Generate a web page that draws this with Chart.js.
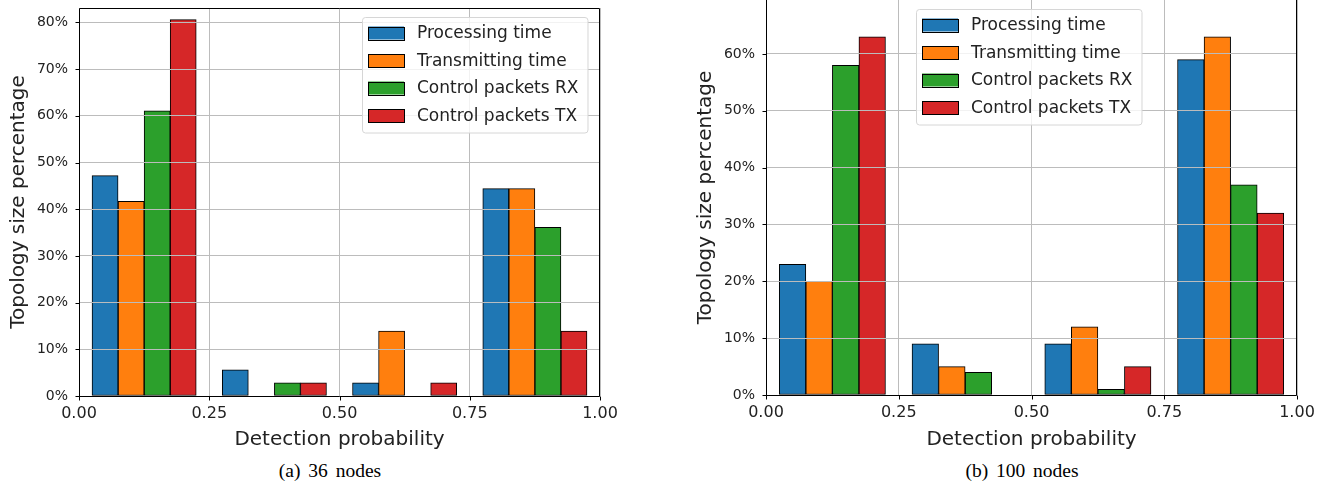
<!DOCTYPE html>
<html lang="en">
<head>
  <meta charset="UTF-8" />
  <title>Topology size percentage vs detection probability</title>
  <script src="https://cdn.jsdelivr.net/npm/chart.js"></script>
  <style>
    body { margin: 0; background: #fff; width: 1328px; height: 487px; position: relative; overflow: hidden; }
    .box { position: absolute; top: 0; height: 460px; }
    #leftBox { left: 0; width: 640px; }
    #rightBox { left: 660px; width: 668px; }
    .caption { position: absolute; top: 460px; line-height: 22px; font-family: "Liberation Serif", "Times New Roman", serif; font-size: 19.5px; color: #000; transform: translateX(-50%); white-space: nowrap; word-spacing: 3px; }
  </style>
</head>
<body>
  <div class="box" id="leftBox"><canvas id="chart36" width="640" height="460"></canvas></div>
  <div class="box" id="rightBox"><canvas id="chart100" width="668" height="460"></canvas></div>
  <div class="caption" style="left:330px">(a) 36 nodes</div>
  <div class="caption" style="left:1022px">(b) 100 nodes</div>
  <script>
    // detection probability bins, one bar per series inside each 0.25 bin
    const xTicks = [0, 0.25, 0.5, 0.75, 1];
    const seriesNames = ['Processing time', 'Transmitting time', 'Control packets RX', 'Control packets TX'];
    const xProcessing = [0.05, 0.30, 0.55, 0.80];
    const xTransmitting = [0.10, 0.35, 0.60, 0.85];
    const xControlRx = [0.15, 0.40, 0.65, 0.90];
    const xControlTx = [0.20, 0.45, 0.70, 0.95];

    // (a) 36 nodes, % of topology
    const processing36 = [47.2, 5.6, 2.8, 44.4];
    const transmitting36 = [41.7, 0, 13.9, 44.4];
    const controlRx36 = [61.1, 2.8, 0, 36.1];
    const controlTx36 = [80.6, 2.8, 2.8, 13.9];
    const yTicks36 = [0, 10, 20, 30, 40, 50, 60, 70, 80];

    // (b) 100 nodes, % of topology
    const processing100 = [23, 9, 9, 59];
    const transmitting100 = [20, 5, 12, 63];
    const controlRx100 = [58, 4, 1, 37];
    const controlTx100 = [63, 0, 5, 32];
    const yTicks100 = [0, 10, 20, 30, 40, 50, 60];

    const colors = ['#1f77b4', '#ff7f0e', '#2ca02c', '#d62728'];
    const FONT = '"DejaVu Sans", sans-serif';
    const gridColor = '#bcbcbc';
    const TICK = 4;

    function makeSets(xs, ys) {
      return xs.map((xArr, i) => ({
        label: seriesNames[i],
        data: xArr.map((x, j) => ({ x: x, y: ys[i][j] })),
        backgroundColor: colors[i],
        borderColor: '#000',
        borderWidth: 1,
        borderSkipped: false,
        grouped: false,
        barPercentage: 1,
        categoryPercentage: 1
      }));
    }

    // spines, tick marks and the legend box inside the plot
    function framePlugin(opts) {
      return {
        id: 'frameLegend',
        afterDraw(chart) {
          const ctx = chart.ctx;
          const a = chart.chartArea;
          const xs = chart.scales.x, ys = chart.scales.y;
          const L = Math.round(a.left) + 0.5, R = Math.round(a.right) - 0.5;
          const T = Math.round(a.top) + 0.5, B = Math.round(a.bottom) + 0.5;
          ctx.save();
          ctx.strokeStyle = '#000';
          ctx.lineWidth = 1;
          ctx.beginPath();
          ctx.moveTo(L, opts.top ? T : a.top);
          ctx.lineTo(L, B);
          ctx.lineTo(R, B);
          ctx.lineTo(R, opts.top ? T : a.top);
          if (opts.top) ctx.lineTo(L, T);
          xs.ticks.forEach(t => {
            const px = Math.round(xs.getPixelForValue(t.value)) + 0.5;
            ctx.moveTo(px, B);
            ctx.lineTo(px, B + TICK);
          });
          ys.ticks.forEach(t => {
            const py = Math.round(ys.getPixelForValue(t.value)) + 0.5;
            ctx.moveTo(L, py);
            ctx.lineTo(L - TICK, py);
          });
          ctx.stroke();

          const sets = chart.data.datasets;
          ctx.font = '17px ' + FONT;
          const textW = Math.max(...sets.map(d => ctx.measureText(d.label).width));
          const pad = 6, patchW = 36, patchH = 13, gap = 13, rowH = 27.5;
          const w = pad + patchW + gap + textW + 9;
          const h = rowH * (sets.length - 1) + 33;
          const x0 = opts.legendX, y0 = opts.legendY;
          ctx.beginPath();
          ctx.roundRect(x0 + 0.5, y0 + 0.5, w, h, 3);
          ctx.fillStyle = 'rgba(255,255,255,0.8)';
          ctx.fill();
          ctx.strokeStyle = '#d6d6d6';
          ctx.stroke();
          sets.forEach((d, i) => {
            const cy = y0 + 16 + i * rowH;
            ctx.fillStyle = d.backgroundColor;
            ctx.fillRect(x0 + pad, cy - patchH / 2, patchW, patchH);
            ctx.strokeStyle = '#000';
            ctx.strokeRect(x0 + pad + 0.5, Math.round(cy - patchH / 2) + 0.5, patchW, patchH);
            ctx.fillStyle = '#222';
            ctx.textBaseline = 'middle';
            ctx.textAlign = 'left';
            ctx.fillText(d.label, x0 + pad + patchW + gap, cy + 1);
          });
          ctx.restore();
        }
      };
    }

    function makeChart(id, datasets, yMax, yTicks, lay) {
      return new Chart(document.getElementById(id), {
        type: 'bar',
        data: { datasets: datasets },
        options: {
          responsive: false,
          animation: false,
          layout: { padding: { left: 0, right: lay.right, top: lay.padTop, bottom: 0 } },
          plugins: { legend: { display: false }, tooltip: { enabled: false } },
          scales: {
            x: {
              type: 'linear',
              min: 0, max: 1,
              offset: false,
              afterBuildTicks: s => { s.ticks = xTicks.map(v => ({ value: v })); },
              afterFit: s => { s.height = lay.xHeight; s.paddingLeft = 0; s.paddingRight = 0; },
              grid: { color: gridColor, lineWidth: 1, z: 1, offset: false, drawTicks: false },
              border: { display: false },
              ticks: { font: { family: FONT, size: 16 }, color: '#222', padding: 8, maxRotation: 0, callback: v => v.toFixed(2) },
              title: { display: true, text: 'Detection probability', font: { family: FONT, size: 20, lineHeight: 1.2 }, color: '#222', padding: { top: 0, bottom: 8 } }
            },
            y: {
              min: 0, max: yMax,
              afterBuildTicks: s => { s.ticks = yTicks.map(v => ({ value: v })); },
              afterFit: s => { s.width = lay.yWidth; s.paddingTop = 0; s.paddingBottom = 0; },
              grid: { color: gridColor, lineWidth: 1, z: 1, drawTicks: false },
              border: { display: false },
              ticks: { font: { family: FONT, size: 14 }, color: '#222', padding: 11, callback: v => v + '%' },
              title: { display: true, text: 'Topology size percentage', font: { family: FONT, size: 20, lineHeight: 1.2 }, color: '#222', padding: { top: lay.yTitlePad, bottom: 0 } }
            }
          }
        },
        plugins: [framePlugin(lay)]
      });
    }

    const xs = [xProcessing, xTransmitting, xControlRx, xControlTx];

    makeChart('chart36',
      makeSets(xs, [processing36, transmitting36, controlRx36, controlTx36]),
      83.1, yTicks36,
      { right: 40, padTop: 8, top: true, xHeight: 64, yWidth: 79, yTitlePad: 7, legendX: 362, legendY: 17 });

    makeChart('chart100',
      makeSets(xs, [processing100, transmitting100, controlRx100, controlTx100]),
      69.5, yTicks100,
      { right: 31, padTop: 0, top: false, xHeight: 65, yWidth: 106, yTitlePad: 34, legendX: 256, legendY: 9 });
  </script>
</body>
</html>
